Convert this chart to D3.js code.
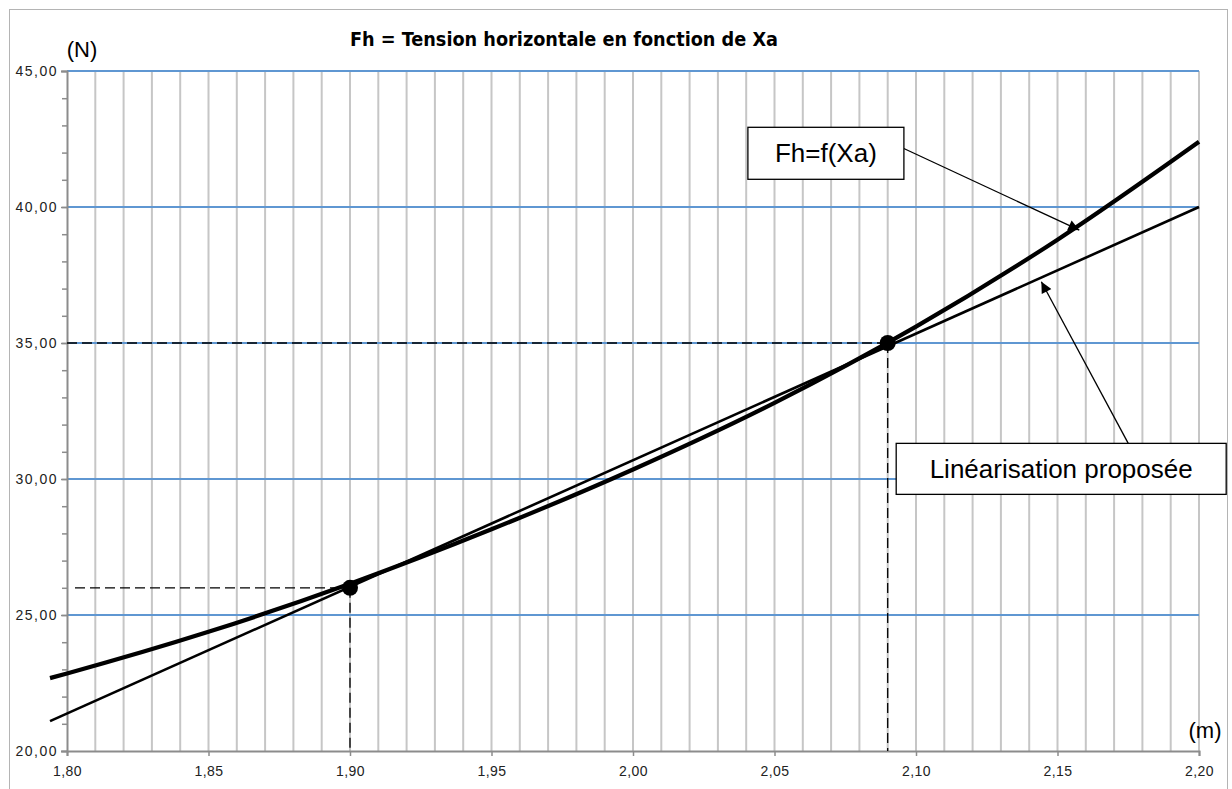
<!DOCTYPE html>
<html>
<head>
<meta charset="utf-8">
<script src="https://cdn.jsdelivr.net/npm/d3@7"></script>
<style>
  body { margin: 0; background: #fff; }
  svg { display: block; font-family: "Liberation Sans", Arial, sans-serif; }
</style>
</head>
<body>
<div id="chart"></div>
<script>
// Fh = f(Xa) curve
const fhX = [1.794, 1.80, 1.85, 1.90, 1.95, 2.00, 2.05, 2.10, 2.15, 2.20];
const fhY = [22.68, 22.85, 24.38, 26.15, 28.15, 30.35, 32.8, 35.6, 38.8, 42.4];

// proposed linearisation (straight line)
const linX = [1.794, 2.20];
const linY = [21.1, 40.0];

// marked points with dashed guides
const ptX = [1.90, 2.09];
const ptY = [26.0, 35.0];

const xTicks = [1.80, 1.85, 1.90, 1.95, 2.00, 2.05, 2.10, 2.15, 2.20];
const yTicks = [20, 25, 30, 35, 40, 45];

const W = 1232, H = 789;
const margin = { top: 71, right: 33, bottom: 38, left: 67 },
  width = W - margin.left - margin.right,
  height = H - margin.top - margin.bottom;

const svg = d3.select("#chart").append("svg")
  .attr("width", W)
  .attr("height", H);

// outer frame
svg.append("rect")
  .attr("x", 9.5).attr("y", 9.5)
  .attr("width", 1218).attr("height", 790)
  .attr("fill", "none")
  .attr("stroke", "#b4b4b4")
  .attr("stroke-width", 1);

const g = svg.append("g")
  .attr("transform", `translate(${margin.left},${margin.top})`);

const x = d3.scaleLinear().domain([1.80, 2.20]).range([0, width]);
const y = d3.scaleLinear().domain([20, 45]).range([height, 0]);

const comma = f => d => d3.format(f)(d).replace(".", ",");

// vertical grid, every 0.01
const vGrid = d3.range(1, 41).map(i => 1.80 + i * 0.01);
g.append("g").selectAll("line")
  .data(vGrid)
  .enter().append("line")
  .attr("x1", d => x(d)).attr("x2", d => x(d))
  .attr("y1", 0).attr("y2", height)
  .attr("stroke", "#c6c6c6")
  .attr("stroke-width", 2);

// horizontal grid, blue
g.append("g").selectAll("line")
  .data(yTicks.filter(d => d > 20))
  .enter().append("line")
  .attr("x1", 0).attr("x2", width)
  .attr("y1", d => y(d)).attr("y2", d => y(d))
  .attr("stroke", "#5f97d2")
  .attr("stroke-width", 2);

// minor ticks on y axis
g.append("g")
  .call(d3.axisLeft(y).tickValues(d3.range(20, 46, 1)).tickSize(5).tickFormat(""))
  .call(a => a.select(".domain").remove())
  .call(a => a.selectAll("line").attr("stroke", "#8c8c8c").attr("stroke-width", 1.5));

// y axis
g.append("g")
  .attr("id", "y-axis")
  .call(d3.axisLeft(y).tickValues(yTicks).tickSize(6).tickPadding(3).tickFormat(comma(".2f")))
  .call(a => a.select(".domain").attr("stroke", "#8c8c8c").attr("stroke-width", 2))
  .call(a => a.selectAll("line").attr("stroke", "#8c8c8c").attr("stroke-width", 1.5))
  .call(a => a.selectAll("text")
    .attr("font-size", 14)
    .attr("letter-spacing", 1.5)
    .attr("fill", "#222")
    .attr("font-family", "Liberation Sans, Arial, sans-serif"));

// x axis
g.append("g")
  .attr("id", "x-axis")
  .attr("transform", `translate(0,${height})`)
  .call(d3.axisBottom(x).tickValues(xTicks).tickSize(5).tickPadding(10).tickFormat(comma(".2f")))
  .call(a => a.select(".domain").attr("stroke", "#8c8c8c").attr("stroke-width", 2))
  .call(a => a.selectAll("line").attr("stroke", "#8c8c8c").attr("stroke-width", 1.5))
  .call(a => a.selectAll("text")
    .attr("font-size", 14)
    .attr("letter-spacing", 0.5)
    .attr("fill", "#222")
    .attr("font-family", "Liberation Sans, Arial, sans-serif"));

// dashed guides
const pts = ptX.map((d, i) => ({ x: d, y: ptY[i] }));
const guides = g.append("g")
  .attr("stroke", "#000")
  .attr("stroke-width", 1.3)
  .attr("stroke-dasharray", "10,5")
  .attr("fill", "none");
guides.selectAll(".h")
  .data(pts)
  .enter().append("line")
  .attr("x1", (d, i) => i === 0 ? 8 : 0)
  .attr("x2", d => x(d.x))
  .attr("y1", d => y(d.y)).attr("y2", d => y(d.y));
guides.selectAll(".v")
  .data(pts)
  .enter().append("line")
  .attr("x1", d => x(d.x)).attr("x2", d => x(d.x))
  .attr("y1", d => y(d.y)).attr("y2", height);

// curves
const line = d3.line().x(d => x(d[0])).y(d => y(d[1]));

g.append("path")
  .datum(linX.map((d, i) => [d, linY[i]]))
  .attr("d", line)
  .attr("fill", "none")
  .attr("stroke", "#000")
  .attr("stroke-width", 2.6);

g.append("path")
  .datum(fhX.map((d, i) => [d, fhY[i]]))
  .attr("d", line.curve(d3.curveMonotoneX))
  .attr("fill", "none")
  .attr("stroke", "#000")
  .attr("stroke-width", 4.2);

g.selectAll(".dot")
  .data(pts)
  .enter().append("circle")
  .attr("class", "dot")
  .attr("cx", d => x(d.x))
  .attr("cy", d => y(d.y))
  .attr("r", 8)
  .attr("fill", "#000");

// arrow marker
svg.append("defs").append("marker")
  .attr("id", "arrow")
  .attr("viewBox", "0 0 10 10")
  .attr("refX", 10).attr("refY", 5)
  .attr("markerWidth", 15).attr("markerHeight", 11)
  .attr("markerUnits", "userSpaceOnUse")
  .attr("orient", "auto")
  .append("path")
  .attr("d", "M0,0 L10,5 L0,10 z")
  .attr("fill", "#000");

// callouts: box top-left in data units, arrow start/tip in data units
const callouts = [
  { text: "Fh=f(Xa)", bx: 2.0406, by: 42.93, bw: 156, bh: 52,
    ax: 2.0957, ay: 42.15, tx: 2.1577, ty: 39.15 },
  { text: "Linéarisation proposée", bx: 2.0930, by: 31.31, bw: 330, bh: 51,
    ax: 2.1750, ay: 31.31, tx: 2.1443, ty: 37.25 }
];

callouts.forEach(c => {
  g.append("line")
    .attr("x1", x(c.ax)).attr("y1", y(c.ay))
    .attr("x2", x(c.tx)).attr("y2", y(c.ty))
    .attr("stroke", "#000")
    .attr("stroke-width", 1.3)
    .attr("marker-end", "url(#arrow)");
  g.append("rect")
    .attr("x", x(c.bx)).attr("y", y(c.by))
    .attr("width", c.bw).attr("height", c.bh)
    .attr("fill", "#fff")
    .attr("stroke", "#000")
    .attr("stroke-width", 1.3);
  g.append("text")
    .attr("x", x(c.bx) + c.bw / 2)
    .attr("y", y(c.by) + c.bh / 2 + 9)
    .attr("text-anchor", "middle")
    .attr("font-size", 26)
    .attr("fill", "#000")
    .text(c.text);
});

// title and unit labels
svg.append("text")
  .attr("id", "title")
  .attr("x", 564)
  .attr("y", 46)
  .attr("text-anchor", "middle")
  .attr("font-family", "Liberation Sans Narrow, DejaVu Sans Condensed, sans-serif")
  .attr("font-weight", "bold")
  .attr("font-size", 20)
  .attr("textLength", 428)
  .attr("lengthAdjust", "spacingAndGlyphs")
  .text("Fh = Tension horizontale en fonction de Xa");

svg.append("text")
  .attr("x", 82).attr("y", 57)
  .attr("text-anchor", "middle")
  .attr("font-size", 22)
  .text("(N)");

svg.append("text")
  .attr("x", 1205).attr("y", 738)
  .attr("text-anchor", "middle")
  .attr("font-size", 22)
  .text("(m)");
</script>
</body>
</html>
